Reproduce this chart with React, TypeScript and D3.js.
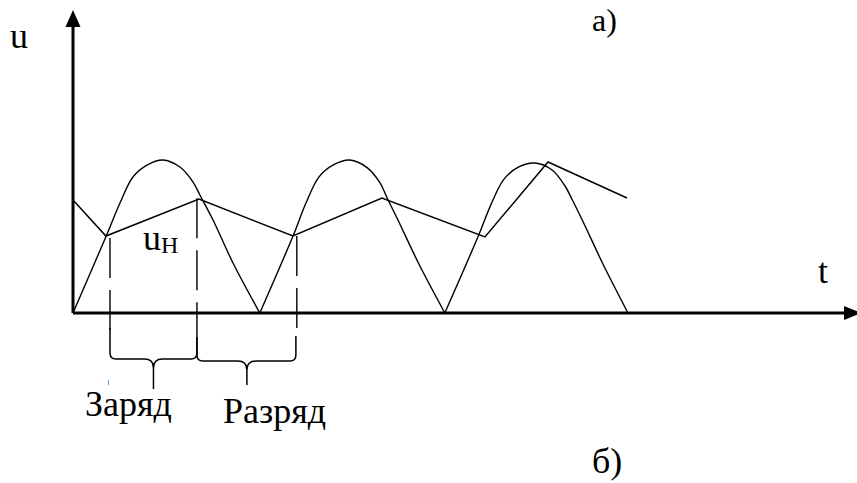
import React from 'react';
import * as d3 from 'd3';

const W = 857;
const H = 483;

// axis extents in data units (t along x, u along y)
const tMax = 42.6;
const uMax = 19.8;

// rectified half-waves, [t, u]
const hump1: [number, number][] = [
  [0, 0], [1.82, 5.1], [2.54, 7.19], [3.24, 8.89], [4.0, 9.67], [4.86, 10],
  [5.78, 9.54], [6.49, 8.56], [6.86, 7.71], [7.57, 6.08], [8.65, 3.27], [10.1, 0],
];
const hump2: [number, number][] = [
  [10.1, 0], [11.9, 5.05], [12.6, 7.2], [13.3, 8.9], [14.1, 9.7], [14.97, 10],
  [15.9, 9.5], [16.6, 8.5], [16.95, 7.6], [17.6, 6.0], [18.7, 3.2], [20.1, 0],
];
const hump3: [number, number][] = [
  [20.1, 0], [21.9, 5.0], [22.6, 7.1], [23.3, 8.75], [24.1, 9.55], [24.97, 9.8],
  [25.9, 9.35], [26.6, 8.3], [26.95, 7.5], [27.6, 5.9], [28.65, 3.2], [30.0, 0],
];
const humps = [hump1, hump2, hump3];

// load voltage u_H (charge / discharge)
const loadVoltage: [number, number][] = [
  [0, 7.39], [1.78, 5.03], [6.81, 7.45], [11.89, 5.03],
  [16.7, 7.52], [22.27, 4.97], [25.68, 9.87], [29.95, 7.52],
];

// dashed markers: t, top u, bottom u
const markerT = [2.0, 6.7, 12.1];
const markerTop = [4.9, 7.5, 5.03];
const markerBottom = [-1.1, -1.55, -1.0];

// braces under the axis
const braceFrom = [2.0, 6.7];
const braceTo = [6.7, 12.05];
const braceMid = [4.35, 9.4];
const braceTopL = [-0.98, -1.55];
const braceTopR = [-1.55, -1.5];
const braceBar = [-3.0, -3.14];
const braceTip = [-4.97, -4.7];
const braceLabels = ['Заряд', 'Разряд'];

const font = "'Liberation Serif', Tinos, 'Noto Serif', 'DejaVu Serif', 'Times New Roman', Times, serif";

export default function App() {
  const x = d3.scaleLinear().domain([0, tMax]).range([73, 861]);
  const y = d3.scaleLinear().domain([0, 10]).range([313, 160]);

  const humpLine = d3.line<[number, number]>()
    .x(d => x(d[0]))
    .y(d => y(d[1]))
    .curve(d3.curveCatmullRom.alpha(0.5));

  const polyLine = d3.line<[number, number]>()
    .x(d => x(d[0]))
    .y(d => y(d[1]));

  const bracePath = (i: number) => {
    const x0 = x(braceFrom[i]);
    const x1 = x(braceTo[i]);
    const xm = x(braceMid[i]);
    const tl = y(braceTopL[i]);
    const tr = y(braceTopR[i]);
    const bar = y(braceBar[i]);
    const tip = y(braceTip[i]);
    const r = 6;
    const rm = 9;
    const p = d3.path();
    p.moveTo(x0, tl);
    p.lineTo(x0, bar - r);
    p.quadraticCurveTo(x0, bar, x0 + r, bar);
    p.lineTo(xm - rm, bar);
    p.quadraticCurveTo(xm, bar, xm, bar + rm);
    p.lineTo(xm, tip);
    p.moveTo(xm, bar + rm);
    p.quadraticCurveTo(xm, bar, xm + rm, bar);
    p.lineTo(x1 - r, bar);
    p.quadraticCurveTo(x1, bar, x1, bar - r);
    p.lineTo(x1, tr);
    return p.toString();
  };

  const x0 = x(0);
  const y0 = y(0);
  const yTop = y(uMax);
  const xEnd = x(tMax);

  return (
    <svg
      width={W}
      height={H}
      style={{ position: 'absolute', left: 0, top: 0, background: '#fff' }}
    >
      {/* axes */}
      <line x1={x0} y1={y0} x2={x0} y2={yTop + 14} stroke="#000" strokeWidth={3} />
      <path d={`M${x0},${yTop} L${x0 - 7.5},${yTop + 17} L${x0 + 7.5},${yTop + 17} Z`} fill="#000" />
      <line x1={x0} y1={y0} x2={xEnd - 14} y2={y0} stroke="#000" strokeWidth={3} />
      <path d={`M${xEnd},${y0} L${xEnd - 17},${y0 - 7} L${xEnd - 17},${y0 + 7} Z`} fill="#000" />

      {/* rectified voltage */}
      {humps.map((h, i) => (
        <path key={i} d={humpLine(h) ?? ''} fill="none" stroke="#000" strokeWidth={1.4} />
      ))}

      {/* load voltage */}
      <path d={polyLine(loadVoltage) ?? ''} fill="none" stroke="#000" strokeWidth={1.5} strokeLinejoin="miter" />

      {/* dashed markers */}
      {markerT.map((t, i) => (
        <line
          key={i}
          x1={x(t)} x2={x(t)}
          y1={y(markerTop[i])} y2={y(markerBottom[i])}
          stroke="#000" strokeWidth={1.4} strokeDasharray="40 12"
        />
      ))}

      {/* braces */}
      {braceLabels.map((_, i) => (
        <path key={i} d={bracePath(i)} fill="none" stroke="#000" strokeWidth={1.5} />
      ))}

      <line x1={108.5} x2={108.5} y1={380} y2={385} stroke="#5b9bd5" strokeWidth={1} />

      {/* text */}
      <g fontFamily={font} fill="#000">
        <text x={10} y={48} fontSize={36}>u</text>
        <text x={143} y={250} fontSize={36}>
          u<tspan fontSize={24} dy={3}>H</tspan>
        </text>
        <text x={818} y={283} fontSize={36}>t</text>
        <text x={592} y={31} fontSize={32}>а)</text>
        <text x={592} y={473} fontSize={36}>б)</text>
        <text x={85} y={416} fontSize={36}>{braceLabels[0]}</text>
        <text x={223} y={423} fontSize={36}>{braceLabels[1]}</text>
      </g>
    </svg>
  );
}
